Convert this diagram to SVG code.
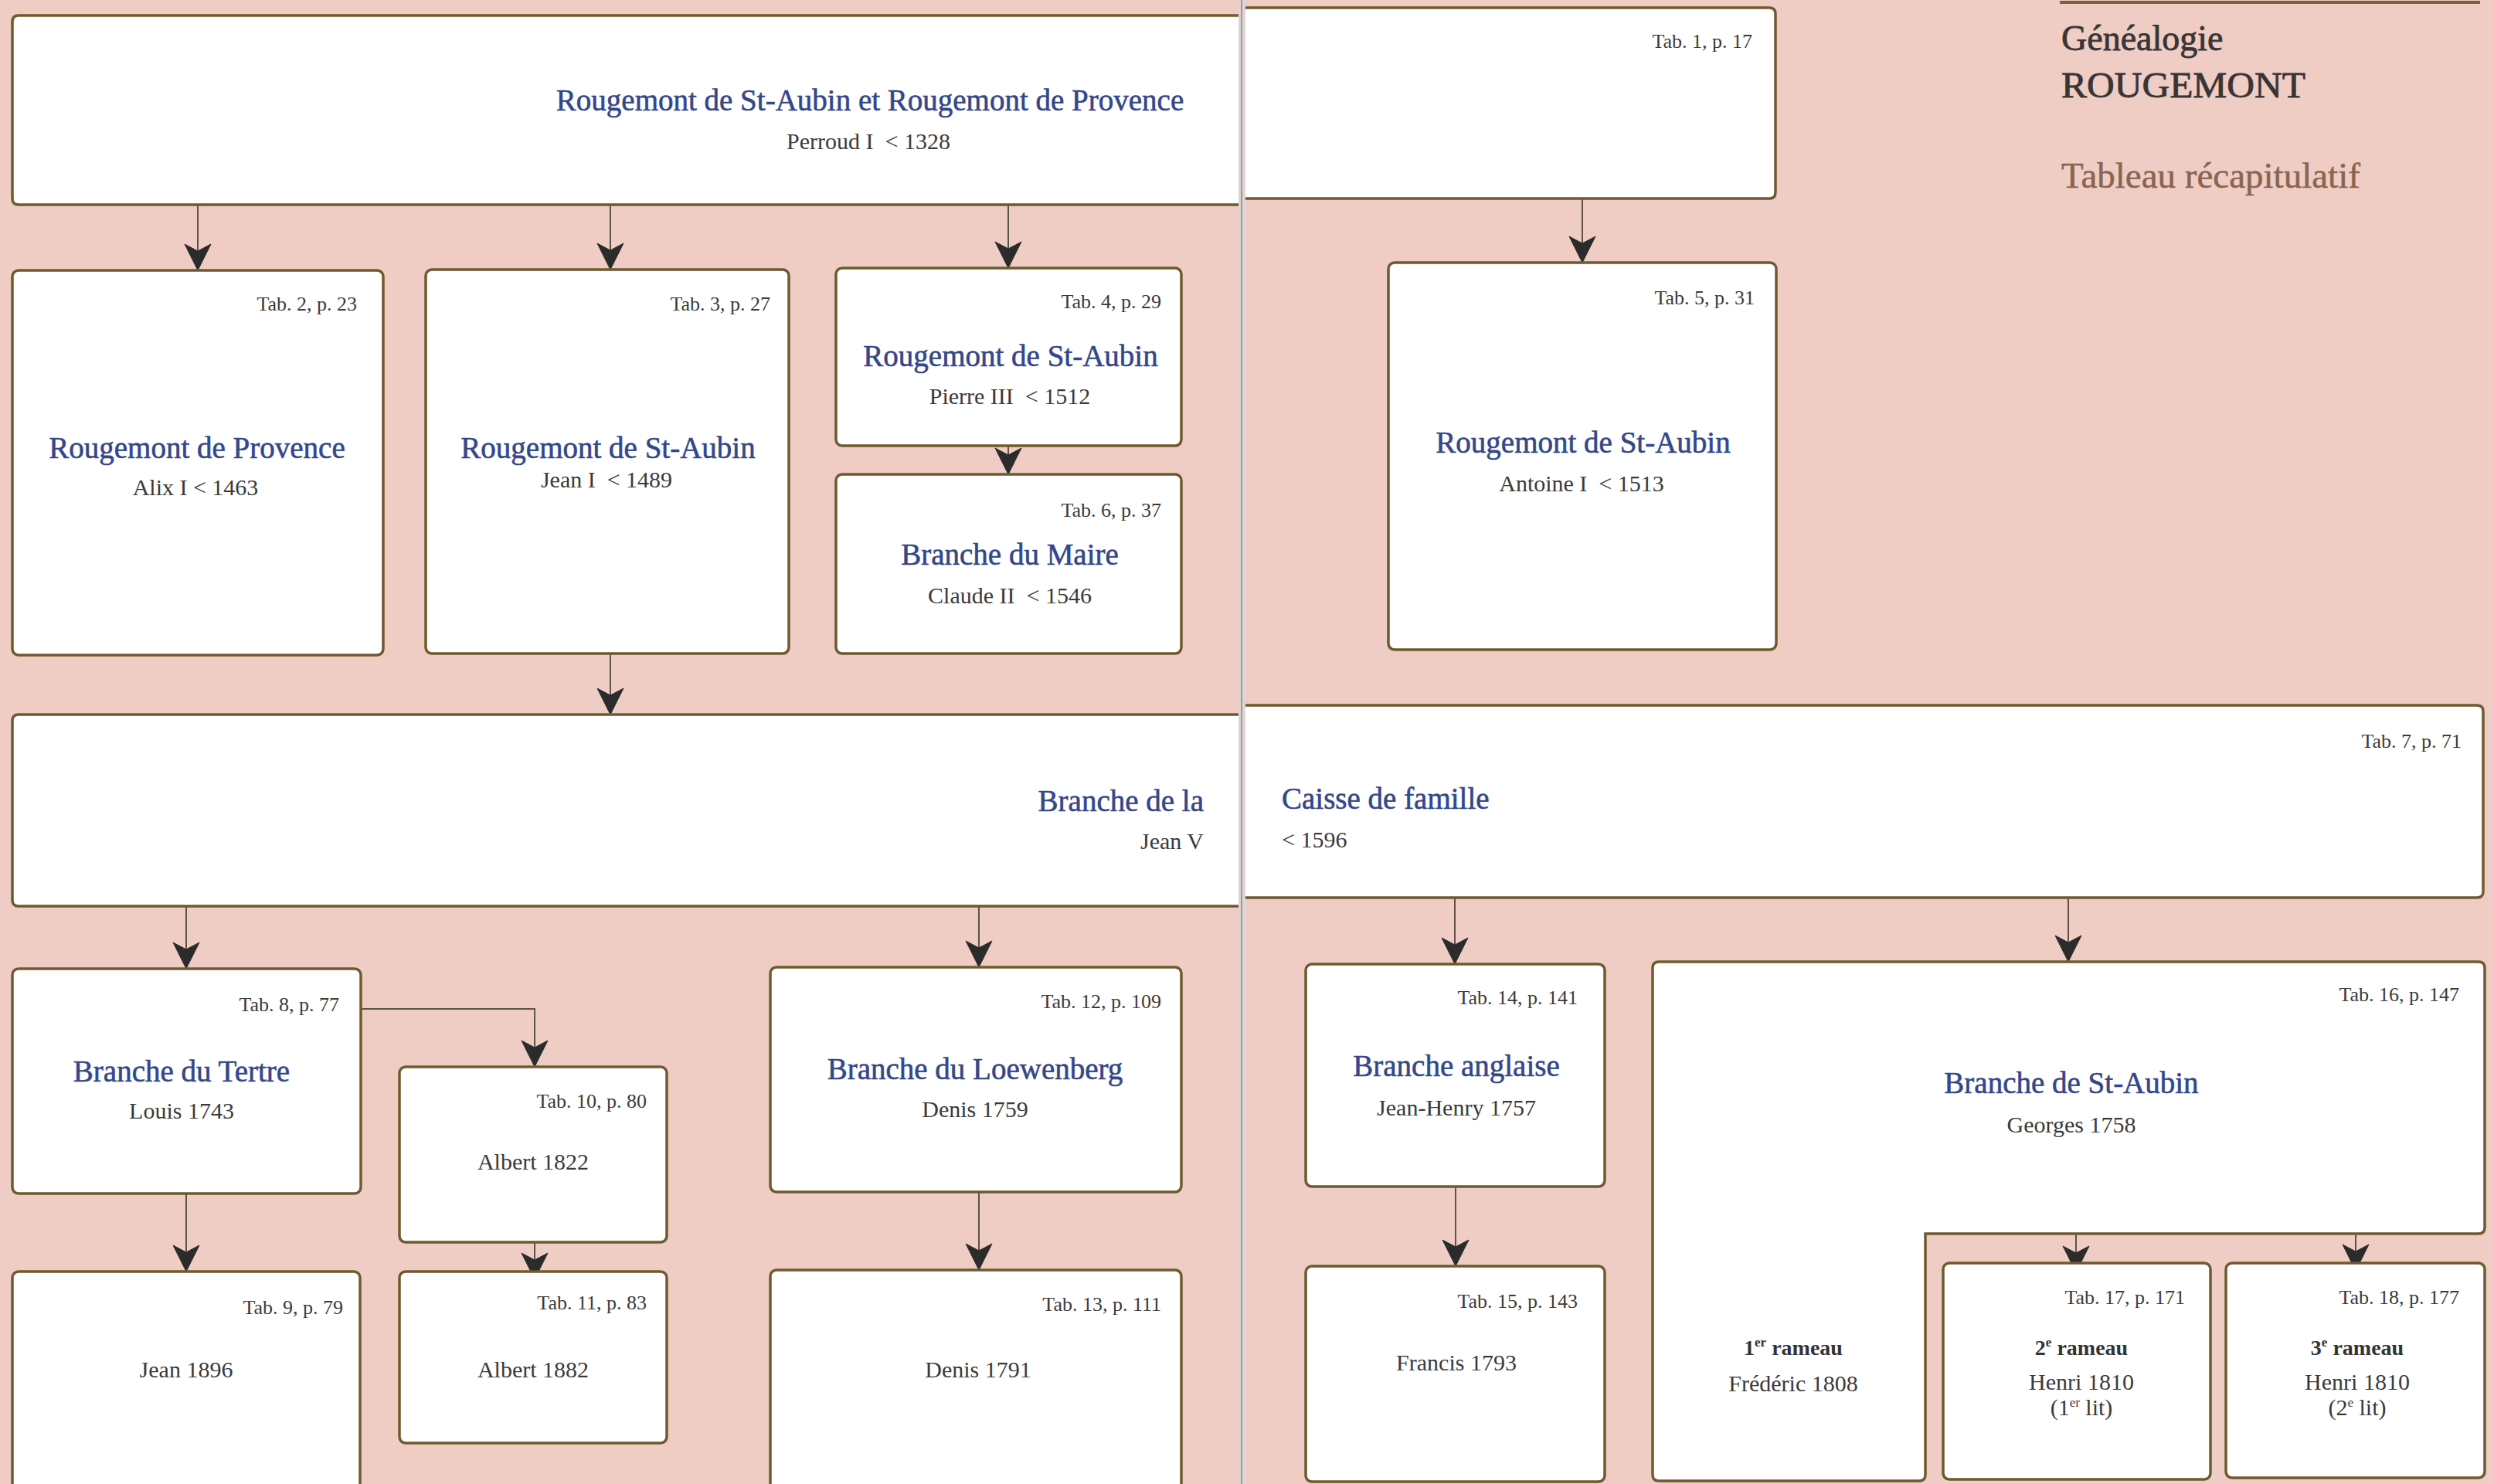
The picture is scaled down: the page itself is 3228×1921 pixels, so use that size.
<svg xmlns="http://www.w3.org/2000/svg" xmlns:xlink="http://www.w3.org/1999/xlink" width="3228" height="1921" viewBox="0 0 3228 1921">
<style>
.box{fill:#ffffff;stroke:#6e5a2e;stroke-width:3.5}
.tab{font-family:"Liberation Serif",serif;font-size:26px;fill:#3a3a3a;text-anchor:end}
.ttl{font-family:"Liberation Serif",serif;font-size:39px;fill:#34478a;stroke:#34478a;stroke-width:0.6;text-anchor:middle}
.nm{font-family:"Liberation Serif",serif;font-size:30px;fill:#3a3a3a;text-anchor:middle}
.rm{font-family:"Liberation Serif",serif;font-size:28px;font-weight:bold;fill:#333333;text-anchor:middle}
.con{fill:none;stroke:#5e5246;stroke-width:2}
.hd{font-family:"Liberation Serif",serif;font-size:46px;fill:#3a3535;stroke:#3a3535;stroke-width:0.8}
.endA{text-anchor:end}
.startA{text-anchor:start}
.ah{fill:#2b2b2b;stroke:#2b2b2b;stroke-width:1}
</style>
<defs>
<path id="ahd" d="M0,0 L-17,-34 L0,-25 L17,-34 Z"/>
</defs>
<rect x="0" y="0" width="3228" height="1921" fill="#efcdc5"/>

<g id="header">
<line x1="2666" y1="3" x2="3210" y2="3" stroke="#7a6040" stroke-width="4"/>
<text class="hd" x="2668" y="65">Généalogie</text>
<text class="hd" x="2668" y="126" textLength="316" lengthAdjust="spacingAndGlyphs">ROUGEMONT</text>
<text x="2668" y="243" font-family="Liberation Serif, serif" font-size="47" fill="#8a6450" stroke="#8a6450" stroke-width="0.5">Tableau récapitulatif</text>
</g>

<g id="connectors">
<line class="con" x1="256" y1="265" x2="256" y2="330"/>
<line class="con" x1="790" y1="265" x2="790" y2="329"/>
<line class="con" x1="1305" y1="265" x2="1305" y2="327"/>
<line class="con" x1="2048" y1="257" x2="2048" y2="320"/>
<line class="con" x1="1305" y1="577" x2="1305" y2="594"/>
<line class="con" x1="790" y1="846" x2="790" y2="905"/>
<line class="con" x1="241" y1="1173" x2="241" y2="1234"/>
<line class="con" x1="1267" y1="1173" x2="1267" y2="1232"/>
<line class="con" x1="1883" y1="1162" x2="1883" y2="1228"/>
<line class="con" x1="2677" y1="1162" x2="2677" y2="1225"/>
<polyline class="con" points="467,1306 692,1306 692,1361"/>
<line class="con" x1="241" y1="1545" x2="241" y2="1626"/>
<line class="con" x1="692" y1="1608" x2="692" y2="1636"/>
<line class="con" x1="1267" y1="1543" x2="1267" y2="1624"/>
<line class="con" x1="1884" y1="1536" x2="1884" y2="1619"/>
<line class="con" x1="2687" y1="1597" x2="2687" y2="1627"/>
<line class="con" x1="3049" y1="1597" x2="3049" y2="1625"/>
<use xlink:href="#ahd" class="ah" x="256" y="350"/>
<use xlink:href="#ahd" class="ah" x="790" y="349"/>
<use xlink:href="#ahd" class="ah" x="1305" y="347"/>
<use xlink:href="#ahd" class="ah" x="2048" y="340"/>
<use xlink:href="#ahd" class="ah" x="1305" y="614"/>
<use xlink:href="#ahd" class="ah" x="790" y="925"/>
<use xlink:href="#ahd" class="ah" x="241" y="1254"/>
<use xlink:href="#ahd" class="ah" x="1267" y="1252"/>
<use xlink:href="#ahd" class="ah" x="1883" y="1248"/>
<use xlink:href="#ahd" class="ah" x="2677" y="1245"/>
<use xlink:href="#ahd" class="ah" x="692" y="1381"/>
<use xlink:href="#ahd" class="ah" x="241" y="1646"/>
<use xlink:href="#ahd" class="ah" x="692" y="1656"/>
<use xlink:href="#ahd" class="ah" x="1267" y="1644"/>
<use xlink:href="#ahd" class="ah" x="1884" y="1639"/>
<use xlink:href="#ahd" class="ah" x="2687" y="1647"/>
<use xlink:href="#ahd" class="ah" x="3049" y="1645"/>
</g>

<g id="n1">
<path class="box" d="M1608,20 H24 Q16,20 16,28 V257 Q16,265 24,265 H1608"/>
<path class="box" d="M1608,10 H2290 Q2298,10 2298,18 V249 Q2298,257 2290,257 H1608"/>
<text class="ttl" x="1126" y="143" font-size="38">Rougemont de St-Aubin et Rougemont de Provence</text>
<text class="nm" x="1124" y="193">Perroud I&#160; &lt; 1328</text>
<text class="tab" x="2268" y="62">Tab. 1, p. 17</text>
</g>

<g id="n2">
<rect class="box" x="16" y="350" width="480" height="498" rx="8"/>
<text class="tab" x="462" y="402">Tab. 2, p. 23</text>
<text class="ttl" x="255" y="593">Rougemont de Provence</text>
<text class="nm" x="253" y="641">Alix I &lt; 1463</text>
</g>

<g id="n3">
<rect class="box" x="551" y="349" width="470" height="497" rx="8"/>
<text class="tab" x="997" y="402">Tab. 3, p. 27</text>
<text class="ttl" x="787" y="593">Rougemont de St-Aubin</text>
<text class="nm" x="785" y="631">Jean I&#160; &lt; 1489</text>
</g>

<g id="n4">
<rect class="box" x="1082" y="347" width="447" height="230" rx="8"/>
<text class="tab" x="1503" y="399">Tab. 4, p. 29</text>
<text class="ttl" x="1308" y="474">Rougemont de St-Aubin</text>
<text class="nm" x="1307" y="523">Pierre III&#160; &lt; 1512</text>
</g>

<g id="n6">
<rect class="box" x="1082" y="614" width="447" height="232" rx="8"/>
<text class="tab" x="1503" y="669">Tab. 6, p. 37</text>
<text class="ttl" x="1307" y="731">Branche du Maire</text>
<text class="nm" x="1307" y="781">Claude II&#160; &lt; 1546</text>
</g>

<g id="n5">
<rect class="box" x="1797" y="340" width="502" height="501" rx="8"/>
<text class="tab" x="2271" y="394">Tab. 5, p. 31</text>
<text class="ttl" x="2049" y="586">Rougemont de St-Aubin</text>
<text class="nm" x="2047" y="636">Antoine I&#160; &lt; 1513</text>
</g>

<g id="n7">
<path class="box" d="M1608,925 H24 Q16,925 16,933 V1165 Q16,1173 24,1173 H1608"/>
<path class="box" d="M1608,913 H3206 Q3214,913 3214,921 V1154 Q3214,1162 3206,1162 H1608"/>
<text class="ttl endA" x="1558" y="1050">Branche de la</text>
<text class="nm endA" x="1558" y="1099">Jean V</text>
<text class="ttl startA" x="1659" y="1047">Caisse de famille</text>
<text class="nm startA" x="1659" y="1097">&lt; 1596</text>
<text class="tab" x="3186" y="968">Tab. 7, p. 71</text>
</g>

<g id="n8">
<rect class="box" x="16" y="1254" width="451" height="291" rx="8"/>
<text class="tab" x="439" y="1309">Tab. 8, p. 77</text>
<text class="ttl" x="235" y="1400">Branche du Tertre</text>
<text class="nm" x="235" y="1448">Louis 1743</text>
</g>

<g id="n10">
<rect class="box" x="517" y="1381" width="346" height="227" rx="8"/>
<text class="tab" x="837" y="1434">Tab. 10, p. 80</text>
<text class="nm" x="690" y="1514">Albert 1822</text>
</g>

<g id="n11">
<rect class="box" x="517" y="1646" width="346" height="222" rx="8"/>
<text class="tab" x="837" y="1695">Tab. 11, p. 83</text>
<text class="nm" x="690" y="1783">Albert 1882</text>
</g>

<g id="n9">
<rect class="box" x="16" y="1646" width="450" height="320" rx="8"/>
<text class="tab" x="444" y="1701">Tab. 9, p. 79</text>
<text class="nm" x="241" y="1783">Jean 1896</text>
</g>

<g id="n12">
<rect class="box" x="997" y="1252" width="532" height="291" rx="8"/>
<text class="tab" x="1503" y="1305">Tab. 12, p. 109</text>
<text class="ttl" x="1262" y="1397">Branche du Loewenberg</text>
<text class="nm" x="1262" y="1446">Denis 1759</text>
</g>

<g id="n13">
<rect class="box" x="997" y="1644" width="532" height="320" rx="8"/>
<text class="tab" x="1503" y="1697">Tab. 13, p. 111</text>
<text class="nm" x="1266" y="1783">Denis 1791</text>
</g>

<g id="n14">
<rect class="box" x="1690" y="1248" width="387" height="288" rx="8"/>
<text class="tab" x="2042" y="1300">Tab. 14, p. 141</text>
<text class="ttl" x="1885" y="1393">Branche anglaise</text>
<text class="nm" x="1885" y="1444">Jean-Henry 1757</text>
</g>

<g id="n15">
<rect class="box" x="1690" y="1639" width="387" height="279" rx="8"/>
<text class="tab" x="2042" y="1693">Tab. 15, p. 143</text>
<text class="nm" x="1885" y="1774">Francis 1793</text>
</g>

<g id="n16">
<path class="box" d="M2147,1245 H3208 Q3216,1245 3216,1253 V1589 Q3216,1597 3208,1597 H2492 V1909 Q2492,1917 2484,1917 H2147 Q2139,1917 2139,1909 V1253 Q2139,1245 2147,1245 Z"/>
<text class="tab" x="3183" y="1296">Tab. 16, p. 147</text>
<text class="ttl" x="2681" y="1415">Branche de St-Aubin</text>
<text class="nm" x="2681" y="1466">Georges 1758</text>
<text class="rm" x="2321" y="1754">1<tspan font-size="17" dy="-11">er</tspan><tspan dy="11"> rameau</tspan></text>
<text class="nm" x="2321" y="1801">Frédéric 1808</text>
</g>

<g id="n17">
<rect class="box" x="2515" y="1635" width="346" height="280" rx="8"/>
<text class="tab" x="2828" y="1688">Tab. 17, p. 171</text>
<text class="rm" x="2694" y="1754">2<tspan font-size="17" dy="-11">e</tspan><tspan dy="11"> rameau</tspan></text>
<text class="nm" x="2694" y="1799">Henri 1810</text>
<text class="nm" x="2694" y="1832">(1<tspan font-size="17" dy="-11">er</tspan><tspan dy="11"> lit)</tspan></text>
</g>

<g id="n18">
<rect class="box" x="2881" y="1635" width="335" height="278" rx="8"/>
<text class="tab" x="3183" y="1688">Tab. 18, p. 177</text>
<text class="rm" x="3051" y="1754">3<tspan font-size="17" dy="-11">e</tspan><tspan dy="11"> rameau</tspan></text>
<text class="nm" x="3051" y="1799">Henri 1810</text>
<text class="nm" x="3051" y="1832">(2<tspan font-size="17" dy="-11">e</tspan><tspan dy="11"> lit)</tspan></text>
</g>

<g id="gutter">
<rect x="1603" y="0" width="9" height="1921" fill="#ddd6d4"/>
<line x1="1607" y1="0" x2="1607" y2="1921" stroke="#8a8482" stroke-width="1.5"/>
</g>
</svg>
